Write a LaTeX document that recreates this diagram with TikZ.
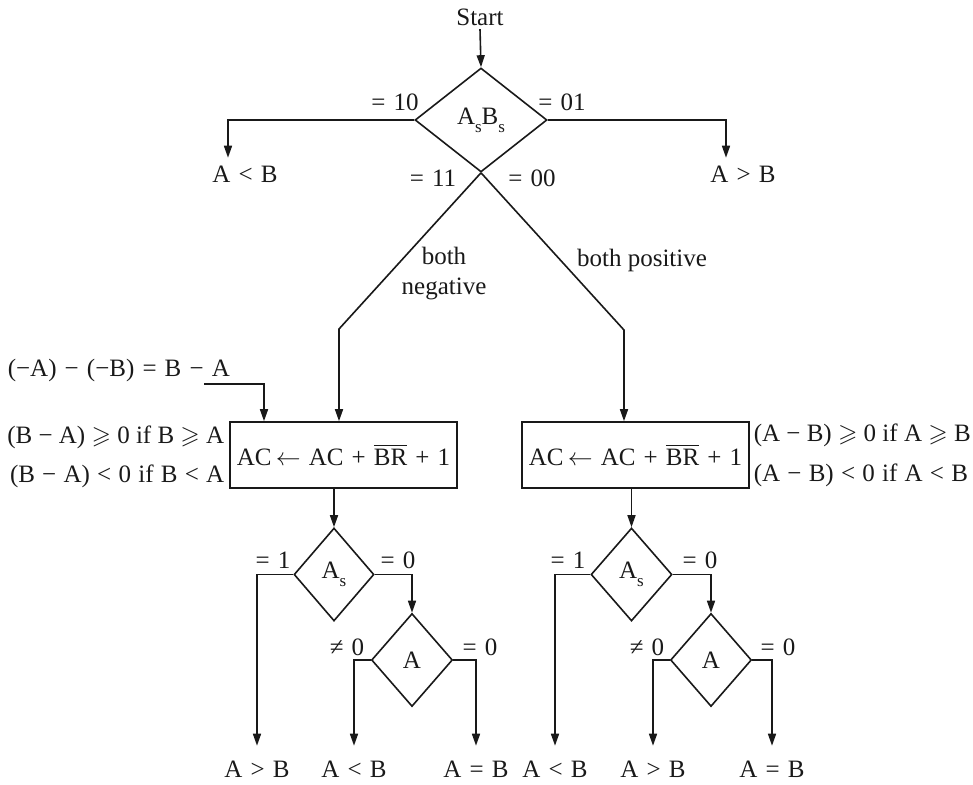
\documentclass[tikz,border=0pt]{standalone}
\usepackage{amssymb}
\usepackage{fontspec}
\setmainfont[WordSpace=1.3]{Liberation Serif}
\usetikzlibrary{shapes.geometric,arrows.meta}
\newcommand\mysub[1]{\raisebox{-0.32em}{\fontsize{17}{17}\selectfont #1}}
\newcommand\mygeq{$\geqslant$}
\newcommand\nsp{\hspace{0.25em}}
\newcommand\msp{\hspace{0.29em}}
\begin{document}
\begin{tikzpicture}[x=1pt,y=-1pt,line width=1.6pt,color=black!90,
  every node/.style={font=\fontsize{25}{30}\selectfont,inner sep=0pt},
  arr/.style={-{Triangle[length=12pt,width=8pt]}},
  dec/.style={shape=diamond,draw,line width=1.6pt},
  opbox/.style={draw,rectangle,minimum width=227pt,minimum height=66pt},
  outtop/.style={outer ysep=8pt},
  outbot/.style={outer ysep=15pt}]
\useasboundingbox (0,0) rectangle (973,784);
% top
\node (start) at (480,17) {Start};
\node[dec,minimum width=132pt,minimum height=104pt] (d1) at (481,120) {A\mysub{s}B\mysub{s}};
\draw[arr] ([yshift=-3pt]start.south) -- (d1.north);
\node[outtop] (lt1) at (245,174) {A < B};
\node[outtop] (gt1) at (743,174) {A > B};
\draw[arr] (d1.west) -| ([xshift=-17pt]lt1.north);
\draw[arr] (d1.east) -| ([xshift=-17pt]gt1.north);
\node (l10) at (395,102) {= 10};
\node (l01) at (562,102) {= 01};
\node (l11) at (433,178) {= 11};
\node (l00) at (532,178) {= 00};
\node[align=center] (neg) at (444,274) {both\\negative};
\node (pos) at (642,260) {both\nsp positive};
% boxes
\node[opbox] (bxL) at (343.5,455) {AC\,$\leftarrow$\ AC + $\overline{\mbox{BR}}$ + 1};
\node[opbox] (bxR) at (635.5,455) {AC\,$\leftarrow$\ AC + $\overline{\mbox{BR}}$ + 1};
\coordinate (bl) at (339,329);
\coordinate (br) at (624,330);
\draw[arr] (d1.south) -- (bl) -- (bl |- bxL.north);
\draw[arr] (d1.south) -- (br) -- (br |- bxR.north);
\node[anchor=base west] (negt) at (7,376) {(−A) − (−B) = B − A};
\coordinate (inL) at (204,384);
\coordinate (inLx) at (264,384);
\draw[arr] (inL) -- (inLx) -- (inLx |- bxL.north);
\node[anchor=base east] (cl1) at (225,443) {(B\nsp−\nsp A)\nsp\mygeq\nsp 0\nsp if\nsp B\nsp\mygeq\nsp A};
\node[anchor=base east] (cl2) at (225,482) {(B\msp−\msp A)\msp<\msp 0\msp if\msp B\msp<\msp A};
\node[anchor=base west] (cr1) at (753,441) {(A\nsp−\nsp B)\nsp\mygeq\nsp 0\nsp if\nsp A\nsp\mygeq\nsp B};
\node[anchor=base west] (cr2) at (753,481) {(A\msp−\msp B)\msp<\msp 0\msp if\msp A\msp<\msp B};
% lower left
\node[dec,minimum width=80pt,minimum height=93pt] (d2L) at (334,574.5) {A\mysub{s}};
\node[dec,minimum width=81pt,minimum height=93pt] (d3L) at (412,660) {A};
\draw[arr] (d2L.north |- bxL.south) -- (d2L.north);
\draw[arr] (d2L.east) -| (d3L.north);
\node[outbot] (o1) at (257,769) {A > B};
\node[outbot] (o2) at (354,769) {A < B};
\node[outbot] (o3) at (476,769) {A = B};
\draw[arr] (d2L.west) -| (o1.north);
\draw[arr] (d3L.west) -| (o2.north);
\draw[arr] (d3L.east) -| (o3.north);
\node (a1) at (273,560) {= 1};
\node (a2) at (398,560) {= 0};
\node (a3) at (347,647) {≠ 0};
\node (a4) at (480,647) {= 0};
% lower right
\node[dec,minimum width=81pt,minimum height=93pt] (d2R) at (631.5,574.5) {A\mysub{s}};
\node[dec,minimum width=81pt,minimum height=93pt] (d3R) at (711,660) {A};
\draw[arr] (d2R.north |- bxR.south) -- (d2R.north);
\draw[arr] (d2R.east) -| (d3R.north);
\node[outbot] (o4) at (555,769) {A < B};
\node[outbot] (o5) at (653,769) {A > B};
\node[outbot] (o6) at (772,769) {A = B};
\draw[arr] (d2R.west) -| (o4.north);
\draw[arr] (d3R.west) -| (o5.north);
\draw[arr] (d3R.east) -| (o6.north);
\node (b1) at (568,560) {= 1};
\node (b2) at (700,560) {= 0};
\node (b3) at (647,647) {≠ 0};
\node (b4) at (778,647) {= 0};
\end{tikzpicture}
\end{document}
